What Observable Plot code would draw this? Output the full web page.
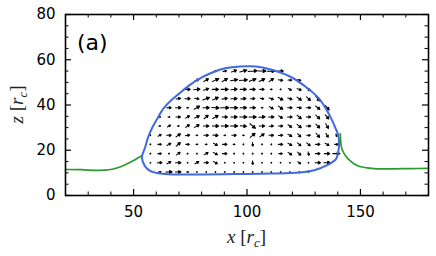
<!DOCTYPE html>
<html><head><meta charset="utf-8">
<script src="https://cdn.jsdelivr.net/npm/d3@7"></script>
<script src="https://cdn.jsdelivr.net/npm/@observablehq/plot@0.6"></script>
<style>html,body{margin:0;padding:0;background:#fff;} svg{display:block}</style>
</head><body><div id="chart"></div>
<script>
// ---- axis ticks ----
const xTicksMajor = [50, 100, 150];
const xTicksMinor = [30, 40, 60, 70, 80, 90, 110, 120, 130, 140, 160, 170];
const yTicksMajor = [0, 20, 40, 60, 80];
const yTicksMinor = [5, 10, 15, 25, 30, 35, 45, 50, 55, 65, 70, 75];

// ---- surface (green) ----
const greenLeftX = [20, 27, 34, 40, 44, 47.1, 50, 52, 53.5];
const greenLeftZ = [11.5, 11.4, 11.1, 11.5, 12.6, 14.0, 15.5, 16.7, 17.5];
const greenRightX = [141.1, 141.5, 142.1, 143.5, 145.3, 147.5, 149.7, 153, 157, 165, 172, 180];
const greenRightZ = [27.3, 22.0, 19.9, 17.5, 15.5, 13.8, 12.8, 12.2, 11.8, 11.8, 11.9, 12.0];

// ---- droplet contour (blue, closed) ----
const blueX = [53.7, 55.0, 56.5, 58.5, 60.3, 63.2, 66.5, 69.8, 75.0, 80.1, 85.0, 90.4, 97.0, 104.0, 110.0, 118.9, 126.3, 132.1, 136.5, 138.9, 140.2, 140.6, 140.2, 139.3, 135.1, 130.0, 123.3, 110.0, 95.0, 80.0, 68.0, 61.8, 57.5, 55.0];
const blueZ = [16.9, 21.0, 26.0, 30.5, 33.7, 38.5, 42.0, 44.8, 49.0, 52.2, 54.5, 56.2, 57.0, 57.0, 55.8, 52.6, 47.7, 42.4, 35.3, 30.0, 26.7, 22.5, 19.3, 16.2, 13.3, 11.3, 10.2, 9.7, 9.5, 9.3, 9.3, 9.7, 10.8, 13.0];

// ---- velocity field (quiver) : grid + per-row [angle deg, magnitude] ----
const quiverCols = [57.4, 61.5, 65.6, 69.7, 73.8, 77.9, 82.0, 86.1, 90.2, 94.3, 98.4, 102.5, 106.6, 110.7, 114.8, 118.9, 123.0, 127.1, 131.2, 135.3, 139.4];
const quiverRowZ = [55.0, 51.0, 46.9, 42.8, 38.8, 34.7, 30.7, 26.6, 22.6, 18.5, 14.5, 10.4];
const quiverRowStart = [7, 5, 4, 3, 2, 1, 1, 0, 0, 0, 0, 1];
const q55 = [[0,0.3],[10,0.4],[20,0.6],[15,0.8],[5,1.0],[0,0.9],[5,0.8],[0,0.6]];
const q51 = [[20,0.5],[30,0.6],[25,0.8],[30,0.7],[10,0.8],[5,0.9],[20,0.8],[25,0.7],[35,0.6],[-10,0.5],[-5,0.4],[-20,0.4]];
const q47 = [[0,0.6],[5,0.7],[20,0.6],[0,0.7],[0,0.8],[5,0.7],[0,0.7],[0,0.6],[0,0.5],[0,0.2],[0,0.1],[-30,0.4],[-20,0.5],[-35,0.5]];
const q43 = [[10,0.5],[0,0.6],[-10,0.5],[20,0.8],[25,0.7],[10,0.6],[0,0.7],[5,0.6],[0,0.5],[-10,0.4],[-20,0.5],[-30,0.6],[-20,0.5],[-35,0.6],[-45,0.6],[-50,0.7]];
const q39 = [[0,0.5],[0,0.6],[0,0.2],[30,0.7],[0,0.7],[-5,0.8],[0,0.9],[0,0.8],[0,0.7],[0,0.6],[0,0.2],[-30,0.5],[-35,0.6],[0,0.5],[-10,0.5],[0,0.5],[-40,0.6],[-50,0.7]];
const q35 = [[0,0.2],[0,0.2],[0,0.5],[30,0.5],[25,0.6],[40,0.6],[30,0.7],[0,0.6],[0,0.7],[0,0.8],[0,0.8],[5,0.7],[0,0.6],[-30,0.5],[0,0.5],[-40,0.6],[0,0.5],[-45,0.6],[-50,0.6]];
const q31 = [[0,0.2],[30,0.4],[0,0.2],[35,0.5],[30,0.6],[0,0.6],[0,0.7],[0,0.8],[0,0.8],[-5,0.7],[-40,0.8],[0,0.6],[5,0.5],[0,0.5],[-35,0.5],[-40,0.6],[0,0.5],[-45,0.6],[-60,0.6]];
const q27 = [[0,0.1],[30,0.4],[0,0.5],[35,0.6],[10,0.5],[0,0.2],[0,0.5],[-5,0.6],[0,0.2],[0,0.5],[0,0.2],[40,0.7],[35,0.6],[0,0.5],[5,0.5],[-30,0.5],[-45,0.5],[0,0.4],[-50,0.6],[-60,0.5],[-70,0.3]];
const q23 = [[0,0.1],[0,0.4],[30,0.5],[40,0.6],[0,0.4],[0,0.2],[0,0.2],[-30,0.5],[0,0.5],[0,0.2],[0,0.1],[-80,0.4],[0,0.1],[0,0.1],[0,0.5],[-30,0.5],[-40,0.5],[-40,0.5],[0,0.5],[-30,0.5],[0,0.4]];
const q19 = [[0,0.1],[0,0.4],[0,0.1],[35,0.5],[0,0.1],[0,0.1],[30,0.5],[-30,0.5],[0,0.5],[0,0.1],[0,0.1],[0,0.1],[0,0.1],[0,0.1],[0,0.4],[-35,0.5],[-45,0.5],[-75,0.4],[0,0.5],[0,0.6],[0,0.8]];
const q15 = [[0,0.1],[0,0.5],[30,0.5],[0,0.6],[0,0.1],[30,0.5],[0,0.5],[-30,0.5],[0,0.1],[0,0.1],[0,0.1],[-85,0.4],[0,0.1],[0,0.1],[0,0.1],[0,0.1],[-40,0.4],[0,0.1],[0,0.6],[0,0.7]];
const q10 = [[0,0.3],[0,0.7],[0,0.6],[0,0.2],[0,0.1],[0,0.1],[0,0.1],[0,0.1],[0,0.1],[0,0.1],[0,0.1],[0,0.1],[0,0.1],[0,0.1],[0,0.1],[0,0.1],[0,0.1]];
const quiverRows = [q55, q51, q47, q43, q39, q35, q31, q27, q23, q19, q15, q10];

// ---- build tables ----
const greenLeft = greenLeftX.map((x, i) => ({x, z: greenLeftZ[i]}));
const greenRight = greenRightX.map((x, i) => ({x, z: greenRightZ[i]}));
const blue = blueX.map((x, i) => ({x, z: blueZ[i]}));
const arrows = [];
quiverRows.forEach((row, r) => {
  row.forEach(([a, m], j) => {
    arrows.push({x: quiverCols[quiverRowStart[r] + j], z: quiverRowZ[r], a, m});
  });
});

const W = 436, H = 256, mL = 65, mR = 8, mT = 14, mB = 61;
const fw = W - mL - mR, fh = H - mT - mB;
const majLen = 6, minLen = 3.5;

// quiver-like arrow: thin shaft + small filled triangular head
const quiverShape = {
  draw(context, l) {
    const hl = Math.min(2.8, l * 0.4), hw = Math.min(1.5, Math.max(0.5, l * 0.25));
    context.moveTo(0, 0);
    context.lineTo(0, -(l - hl));
    context.moveTo(-hw, -(l - hl));
    context.lineTo(0, -l);
    context.lineTo(hw, -(l - hl));
    context.closePath();
  }
};

const plot = Plot.plot({
  width: W, height: H,
  marginLeft: mL, marginRight: mR, marginTop: mT, marginBottom: mB,
  style: {fontFamily: "DejaVu Sans", fontSize: "15px", background: "#fff", color: "black"},
  x: {domain: [20, 180], ticks: xTicksMajor, tickSize: 0, tickPadding: 11, label: null},
  y: {domain: [0, 80], ticks: yTicksMajor, tickSize: 0, tickPadding: 10, label: null},
  length: {domain: [0, 1], range: [0, 9]},
  marks: [
    Plot.vector(arrows, {x: "x", y: "z", length: "m", rotate: d => 90 - d.a, anchor: "middle", shape: quiverShape, stroke: "black", fill: "black", strokeWidth: 1.05}),
    Plot.line(greenLeft, {x: "x", y: "z", stroke: "#2a9a2a", strokeWidth: 1.7, curve: "catmull-rom"}),
    Plot.line(greenRight, {x: "x", y: "z", stroke: "#2a9a2a", strokeWidth: 1.7, curve: "catmull-rom"}),
    Plot.line(blue, {x: "x", y: "z", stroke: "#4169e1", strokeWidth: 2, curve: "catmull-rom-closed"}),
    Plot.tickX(xTicksMajor, {x: d => d, insetTop: fh - majLen, strokeWidth: 1.2}),
    Plot.tickX(xTicksMajor, {x: d => d, insetBottom: fh - majLen, strokeWidth: 1.2}),
    Plot.tickX(xTicksMinor, {x: d => d, insetTop: fh - minLen, strokeWidth: 1}),
    Plot.tickX(xTicksMinor, {x: d => d, insetBottom: fh - minLen, strokeWidth: 1}),
    Plot.tickY(yTicksMajor, {y: d => d, insetRight: fw - majLen, strokeWidth: 1.2}),
    Plot.tickY(yTicksMajor, {y: d => d, insetLeft: fw - majLen, strokeWidth: 1.2}),
    Plot.tickY(yTicksMinor, {y: d => d, insetRight: fw - minLen, strokeWidth: 1}),
    Plot.tickY(yTicksMinor, {y: d => d, insetLeft: fw - minLen, strokeWidth: 1}),
    Plot.frame({stroke: "black", strokeWidth: 1.6})
  ]
});

const svg = d3.select(plot);
const panelLabel = "(a)";
svg.append("text").attr("x", 77).attr("y", 49.5).attr("text-anchor", "start")
  .attr("font-family", "DejaVu Sans").attr("font-size", 22).attr("fill", "black").text(panelLabel);

function addAxisLabel(sel, v) {
  sel.attr("font-family", "Liberation Serif").attr("font-size", 19).attr("fill", "#222").attr("text-anchor", "middle");
  sel.append("tspan").attr("font-style", "italic").text(v);
  sel.append("tspan").text(" [");
  sel.append("tspan").attr("font-style", "italic").text("r");
  sel.append("tspan").attr("font-style", "italic").attr("font-size", 13).attr("dy", 4).text("c");
  sel.append("tspan").attr("dy", -4).text("]");
}
addAxisLabel(svg.append("text").attr("x", mL + fw / 2).attr("y", 243), "x");
addAxisLabel(svg.append("text").attr("transform", `translate(23,${mT + fh / 2}) rotate(-90)`), "z");

document.getElementById("chart").appendChild(plot);
</script>
</body></html>
